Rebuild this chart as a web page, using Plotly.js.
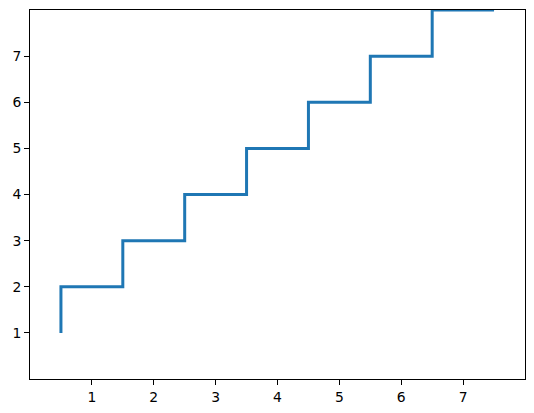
<!DOCTYPE html>
<html>
<head>
<meta charset="utf-8">
<script src="https://cdn.plot.ly/plotly-3.0.1.min.js"></script>
<style>html,body{margin:0;padding:0;background:#fff;}#chart{width:534px;height:413px;}</style>
</head>
<body>
<div id="chart"></div>
<script>
// Step positions (x) and levels (y)
const stepX = [0.5, 0.5, 1.5, 2.5, 3.5, 4.5, 5.5, 6.5, 7.5];
const stepY = [1, 2, 3, 4, 5, 6, 7, 8, 8];
const xTicks = [1, 2, 3, 4, 5, 6, 7];
const yTicks = [1, 2, 3, 4, 5, 6, 7];

const trace = {
  x: stepX, y: stepY, type: 'scatter', mode: 'lines',
  line: {shape: 'hv', color: '#1f77b4', width: 3},
  hoverinfo: 'skip'
};
const axisCommon = {
  range: [0, 8], showgrid: false, zeroline: false,
  showline: true, mirror: true, linecolor: '#000', linewidth: 1,
  ticks: 'outside', ticklen: 5, tickwidth: 1, tickcolor: '#000',
  tickfont: {family: 'DejaVu Sans', size: 13.9, color: '#000'},
  tickmode: 'array'
};
const layout = {
  width: 534, height: 413,
  margin: {l: 30, r: 9, t: 10, b: 34, pad: 0},
  paper_bgcolor: '#fff', plot_bgcolor: '#fff',
  showlegend: false,
  xaxis: Object.assign({}, axisCommon, {tickvals: xTicks, ticktext: xTicks.map(String)}),
  yaxis: Object.assign({}, axisCommon, {tickvals: yTicks, ticktext: yTicks.map(String)})
};
Plotly.newPlot('chart', [trace], layout, {staticPlot: true, displayModeBar: false});
</script>
</body>
</html>
